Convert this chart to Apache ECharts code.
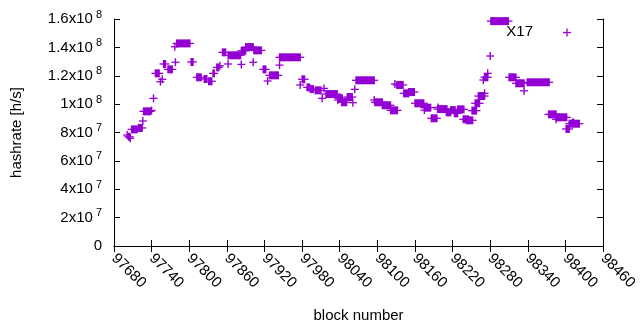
<!DOCTYPE html>
<html>
<head>
<meta charset="utf-8">
<script src="https://cdn.jsdelivr.net/npm/echarts@6/dist/echarts.min.js"></script>
<style>
  html, body { margin: 0; padding: 0; background: #fff; }
  #chart { width: 640px; height: 330px; }
</style>
</head>
<body>
<div id="chart"></div>
<script>
// runs of equal hashrate: first block, last block, hashrate [h/s]
var blockStart = [97701, 97703, 97706, 97708, 97719, 97726, 97727, 97740, 97743, 97746, 97754, 97757,
    97759, 97766, 97777, 97778, 97780, 97803, 97812, 97824, 97831, 97838, 97844, 97849, 97853, 97862,
    97862, 97883, 97883, 97890, 97902, 97903, 97918, 97925, 97928, 97944, 97944, 97977, 97980, 97988,
    97993, 98001, 98012, 98015, 98018, 98037, 98038, 98043, 98052, 98061, 98064, 98066, 98095, 98096,
    98108, 98121, 98128, 98131, 98142, 98150, 98160, 98175, 98175, 98186, 98197, 98196, 98210, 98217,
    98223, 98228, 98237, 98242, 98251, 98256, 98261, 98269, 98271, 98271, 98276, 98280, 98281, 98310,
    98321, 98334, 98339, 98373, 98385, 98385, 98401, 98406, 98411];
var blockEnd = [97701, 97705, 97706, 97717, 97725, 97726, 97738, 97740, 97743, 97752, 97754, 97757,
    97762, 97773, 97777, 97778, 97801, 97806, 97819, 97828, 97836, 97840, 97847, 97849, 97858, 97862,
    97882, 97883, 97890, 97902, 97902, 97915, 97922, 97925, 97942, 97944, 97977, 97977, 97984, 97992,
    97998, 98010, 98012, 98015, 98036, 98037, 98044, 98051, 98060, 98061, 98064, 98095, 98095, 98108,
    98121, 98132, 98128, 98141, 98150, 98159, 98174, 98175, 98185, 98195, 98197, 98211, 98217, 98224,
    98228, 98238, 98245, 98252, 98258, 98263, 98271, 98269, 98271, 98276, 98276, 98280, 98309, 98321,
    98334, 98334, 98374, 98385, 98385, 98402, 98406, 98422, 98413];
var hashrate = [7.82e7, 7.7e7, 7.59e7, 8.22e7, 8.32e7, 8.81e7, 9.49e7, 9.55e7, 10.41e7, 12.17e7, 11.58e7, 11.75e7,
    12.83e7, 12.45e7, 14.04e7, 12.95e7, 14.28e7, 12.97e7, 11.89e7, 11.77e7, 11.61e7, 12.17e7, 12.59e7, 12.7e7, 13.65e7, 12.83e7,
    13.44e7, 12.8e7, 13.76e7, 14.02e7, 12.95e7, 13.79e7, 12.45e7, 11.63e7, 12.03e7, 12.75e7, 13.3e7, 11.35e7, 11.75e7, 11.18e7,
    11.06e7, 10.97e7, 10.41e7, 11.11e7, 10.71e7, 10.29e7, 10.41e7, 10.13e7, 10.5e7, 10.1e7, 11.04e7, 11.68e7, 10.29e7, 10.13e7,
    9.92e7, 9.56e7, 11.42e7, 11.35e7, 10.76e7, 10.85e7, 10.06e7, 9.58e7, 9.75e7, 9.0e7, 9.77e7, 9.65e7, 9.42e7, 9.58e7,
    9.35e7, 9.63e7, 8.93e7, 8.86e7, 9.54e7, 10.06e7, 10.57e7, 11.7e7, 10.76e7, 11.89e7, 12.17e7, 13.39e7, 15.85e7, 11.89e7,
    11.47e7, 10.94e7, 11.54e7, 9.28e7, 8.93e7, 9.07e7, 8.25e7, 8.62e7, 8.7e7];

var purple = '#9400D3';
var fontFamily = '"Liberation Sans", Arial, sans-serif';

var runs = [];
for (var i = 0; i < hashrate.length; i++) {
    runs.push([blockStart[i], blockEnd[i], hashrate[i]]);
}

// gnuplot style "+" points; a run of equal values merges into a bar
function renderRun(params, api) {
    var a = api.coord([api.value(0), api.value(2)]);
    var b = api.coord([api.value(1), api.value(2)]);
    var h = 4;
    return {
        type: 'group',
        children: [
            { type: 'rect', shape: { x: a[0] - 0.7, y: a[1] - h, width: b[0] - a[0] + 1.4, height: 2 * h },
              style: { fill: purple } },
            { type: 'line', shape: { x1: a[0] - h, y1: a[1], x2: b[0] + h, y2: a[1] },
              style: { stroke: purple, lineWidth: 1.3 } }
        ]
    };
}

function yLabel(v) {
    if (v === 0) return '0';
    var e = Math.floor(Math.log10(v) + 1e-9);
    var m = Math.round(v / Math.pow(10, e) * 10) / 10;
    return '{m|' + m + 'x10}{e| ' + e + '}';
}

var axisLine = { lineStyle: { color: '#000', width: 1 } };
var tick = { inside: true, length: 6, lineStyle: { color: '#000' } };

var chart = echarts.init(document.getElementById('chart'));
option = {
    animation: false,
    grid: { left: 114, right: 31, top: 19, bottom: 84 },
    xAxis: [{
        type: 'value',
        min: 97680, max: 98460, interval: 60,
        name: 'block number',
        nameLocation: 'middle',
        nameGap: 62,
        nameTextStyle: { color: '#000', fontSize: 15, fontFamily: fontFamily },
        axisLine: axisLine, axisTick: tick,
        splitLine: { show: false },
        axisLabel: { rotate: -45, margin: 10, color: '#000', fontSize: 15, fontFamily: fontFamily,
            formatter: function (v) { return String(v); } }
    }, {
        type: 'value', position: 'top',
        min: 97680, max: 98460, interval: 60,
        axisLine: axisLine, axisTick: tick,
        splitLine: { show: false }, axisLabel: { show: false }
    }],
    yAxis: [{
        type: 'value',
        min: 0, max: 1.6e8, interval: 2e7,
        name: 'hashrate [h/s]',
        nameLocation: 'middle',
        nameGap: 90,
        nameTextStyle: { color: '#000', fontSize: 15, fontFamily: fontFamily },
        axisLine: { show: true, lineStyle: { color: '#000', width: 1 } }, axisTick: tick,
        splitLine: { show: false },
        axisLabel: {
            margin: 12, color: '#000', fontSize: 15, fontFamily: fontFamily,
            formatter: yLabel,
            rich: {
                m: { fontSize: 15, fontFamily: fontFamily, color: '#000' },
                e: { fontSize: 11, fontFamily: fontFamily, color: '#000', padding: [0, 0, 9, 0] }
            }
        }
    }, {
        type: 'value', position: 'right',
        min: 0, max: 1.6e8, interval: 2e7,
        axisLine: { show: true, lineStyle: { color: '#000', width: 1 } }, axisTick: tick,
        splitLine: { show: false }, axisLabel: { show: false }
    }],
    graphic: [
        { type: 'text', x: 533, y: 32,
          style: { text: 'X17', fill: '#000', font: '15px ' + fontFamily, textAlign: 'right', textVerticalAlign: 'middle' } },
        { type: 'line', shape: { x1: 563, y1: 32.5, x2: 571, y2: 32.5 }, style: { stroke: purple, lineWidth: 1.3 } },
        { type: 'line', shape: { x1: 567, y1: 28.5, x2: 567, y2: 36.5 }, style: { stroke: purple, lineWidth: 1.3 } }
    ],
    series: [{
        name: 'X17',
        type: 'custom',
        renderItem: renderRun,
        encode: { x: [0, 1], y: 2 },
        data: runs
    }]
};
chart.setOption(option);
</script>
</body>
</html>
